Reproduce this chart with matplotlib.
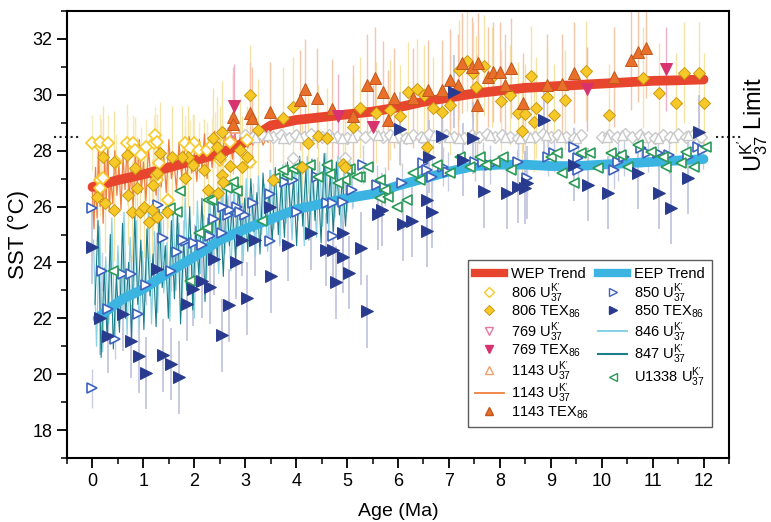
import matplotlib
matplotlib.use('Agg')
import matplotlib.pyplot as plt
from matplotlib.lines import Line2D
from matplotlib.ticker import MultipleLocator

plt.rcParams['font.family'] = ['Liberation Sans', 'DejaVu Sans']

# ---- trend curves ----
wep_x = [0, 0.5, 1, 1.5, 2, 2.5, 3, 3.5, 4, 4.5, 5, 5.5, 6, 6.5, 7, 7.5, 8, 8.5, 9, 9.5, 10, 10.5, 11, 11.5, 12]
wep_y = [26.7, 26.95, 27.15, 27.4, 27.65, 27.9, 28.3, 28.9, 29.1, 29.2, 29.3, 29.4, 29.55, 29.75, 29.9, 30.05,
         30.15, 30.25, 30.3, 30.35, 30.4, 30.45, 30.5, 30.52, 30.55]
eep_x = [0.1, 0.3, 0.6, 1.0, 1.5, 2.0, 2.5, 3.0, 3.5, 4.0, 4.5, 5.0, 5.5, 6.0, 6.5, 7.0, 7.5, 8.0, 8.5, 9.0,
         9.5, 10, 10.5, 11, 11.5, 12]
eep_y = [22.0, 22.3, 22.7, 23.05, 23.65, 24.2, 24.8, 25.2, 25.55, 25.9, 26.1, 26.3, 26.45, 26.75, 27.0, 27.25,
         27.45, 27.5, 27.5, 27.45, 27.45, 27.5, 27.55, 27.6, 27.65, 27.7]

# ---- high resolution alkenone records ----
u1143_line_x = [0.00, 0.03, 0.06, 0.09, 0.12, 0.15, 0.18, 0.21, 0.24, 0.27, 0.30, 0.33, 0.36, 0.40, 0.44, 0.48,
                0.52, 0.56, 0.60, 0.64, 0.68, 0.72, 0.76, 0.80, 0.84, 0.88, 0.92, 0.96, 1.00, 1.05, 1.10, 1.15,
                1.20, 1.25, 1.30, 1.35, 1.40, 1.45, 1.50, 1.55, 1.60, 1.65, 1.70, 1.75, 1.80, 1.85, 1.90, 1.95,
                2.00, 2.05, 2.10, 2.15, 2.20, 2.25, 2.30, 2.35, 2.40, 2.45, 2.50, 2.55, 2.60, 2.65, 2.70, 2.75,
                2.80, 2.85, 2.90, 2.95, 3.00, 3.05, 3.10, 3.15, 3.20, 3.25, 3.30, 3.35, 3.40, 3.45]
u1143_line_y = [26.5, 25.2, 27.4, 25.6, 28.0, 26.0, 27.2, 25.4, 27.6, 26.2, 28.3, 25.8, 27.0, 26.1, 28.0, 26.4,
                27.5, 25.9, 27.8, 26.6, 28.2, 26.3, 27.3, 26.0, 27.9, 26.8, 28.4, 26.5, 27.6, 26.2, 28.1, 26.9,
                27.4, 26.4, 28.2, 26.7, 27.8, 26.5, 28.4, 27.0, 27.6, 26.6, 28.3, 27.1, 28.0, 26.8, 28.5, 27.2,
                27.9, 26.9, 28.4, 27.3, 28.6, 27.0, 28.2, 27.4, 28.7, 27.6, 28.3, 27.5, 28.8, 27.8, 28.4, 27.7,
                28.6, 28.0, 28.5, 27.9, 28.6, 28.1, 28.5, 28.2, 28.6, 28.3, 28.5, 28.2, 28.4, 28.3]

u846_x = [0.02, 0.08, 0.14, 0.20, 0.26, 0.32, 0.38, 0.44, 0.50, 0.56, 0.62, 0.68, 0.74, 0.80, 0.86, 0.92, 0.98,
          1.04, 1.10, 1.16, 1.22, 1.28, 1.34, 1.40, 1.46, 1.52, 1.58, 1.64, 1.70, 1.76, 1.82, 1.88, 1.94, 2.00,
          2.06, 2.12, 2.18, 2.24, 2.30, 2.36, 2.42, 2.48, 2.54, 2.60, 2.66, 2.72, 2.78, 2.84, 2.90, 2.96, 3.02,
          3.08, 3.14, 3.20, 3.26, 3.32, 3.38, 3.44, 3.50, 3.56, 3.62, 3.68, 3.74, 3.80, 3.86, 3.92, 3.98, 4.04,
          4.10, 4.16, 4.22, 4.28, 4.34, 4.40, 4.46, 4.52, 4.58, 4.64, 4.70, 4.76, 4.82, 4.88, 4.94, 5.00, 5.06,
          5.12]
u846_y = [24.8, 21.0, 25.3, 20.8, 24.2, 21.8, 25.6, 21.2, 24.6, 22.0, 25.8, 21.4, 24.9, 22.3, 25.5, 21.6, 24.4,
          22.6, 26.0, 21.8, 25.1, 22.2, 25.8, 22.9, 24.7, 21.9, 26.1, 23.0, 25.4, 22.4, 26.3, 23.3, 25.0, 22.0,
          26.2, 23.6, 25.7, 23.4, 26.5, 24.0, 26.0, 23.6, 26.6, 24.3, 25.8, 23.7, 26.7, 24.5, 26.2, 24.0, 27.0,
          24.6, 26.4, 24.2, 27.1, 25.0, 26.8, 24.4, 27.3, 25.2, 26.6, 24.6, 27.5, 25.4, 27.0, 24.8, 27.7, 25.5,
          27.2, 24.6, 27.8, 25.7, 27.0, 24.9, 27.6, 25.3, 27.9, 25.0, 27.4, 25.6, 27.8, 25.2, 27.3, 25.8, 27.6,
          26.0]

u847_x = [0.05, 0.11, 0.17, 0.23, 0.29, 0.35, 0.41, 0.47, 0.53, 0.59, 0.65, 0.71, 0.77, 0.83, 0.89, 0.95, 1.01,
          1.07, 1.13, 1.19, 1.25, 1.31, 1.37, 1.43, 1.49, 1.55, 1.61, 1.67, 1.73, 1.79, 1.85, 1.91, 1.97, 2.03,
          2.09, 2.15, 2.21, 2.27, 2.33, 2.39, 2.45, 2.51, 2.57, 2.63, 2.69, 2.75, 2.81, 2.87, 2.93, 2.99, 3.05,
          3.11, 3.17, 3.23, 3.29, 3.35, 3.41, 3.47, 3.53, 3.59, 3.65, 3.71, 3.77, 3.83, 3.89, 3.95, 4.01, 4.07,
          4.13, 4.19, 4.25, 4.31, 4.37, 4.43, 4.49, 4.55, 4.61, 4.67, 4.73, 4.79, 4.85, 4.91, 4.97, 5.03]
u847_y = [22.5, 25.5, 20.6, 23.8, 21.2, 25.0, 20.9, 23.5, 21.5, 25.4, 22.0, 24.0, 21.3, 25.7, 22.5, 24.8, 21.6,
          25.2, 22.8, 24.3, 21.7, 25.9, 23.1, 24.6, 22.0, 25.5, 22.7, 25.9, 21.8, 24.8, 23.0, 26.0, 22.3, 25.3,
          23.5, 26.3, 22.6, 25.6, 23.9, 26.4, 24.2, 25.9, 23.5, 26.6, 24.6, 26.1, 24.1, 26.8, 24.8, 26.3, 24.4,
          27.0, 25.1, 26.5, 24.3, 27.2, 25.3, 26.6, 24.7, 27.4, 25.0, 26.9, 24.9, 27.6, 25.6, 27.0, 24.6, 27.8,
          25.3, 27.3, 24.8, 27.7, 25.5, 27.1, 24.7, 27.9, 25.4, 27.2, 25.1, 27.6, 25.7, 27.0, 25.3, 27.4]

# ---- ODP 806 ----
tex806_x = [3.09, 2.54, 3.25, 3.74, 3.94, 5.26, 5.12, 5.57, 4.23, 4.43, 4.60, 4.11, 4.92, 4.96, 3.54, 2.36, 2.44,
            2.89, 2.50, 2.70, 3.03, 2.93, 2.54, 2.56, 2.46, 2.20, 2.26, 1.97, 1.81, 1.87, 1.75, 1.57, 1.32, 1.26,
            1.18, 0.83, 0.67, 0.20, 0.43, 0.87, 0.69, 0.08, 0.24, 0.43, 0.77, 0.93, 1.02, 1.16, 1.12, 1.26, 1.46,
            5.85, 6.04, 6.20, 6.38, 6.52, 6.69, 6.87, 7.03, 7.19, 7.36, 7.48, 7.68, 7.85, 7.54, 8.03, 8.19, 8.35,
            8.50, 8.43, 8.72, 8.68, 8.92, 9.06, 9.27, 8.62, 9.69, 10.14, 10.81, 11.12, 11.46, 11.61, 11.91, 12.00,
            6.57]
tex806_y = [30.0, 28.68, 28.75, 29.18, 29.57, 29.54, 28.86, 29.36, 28.29, 28.54, 28.46, 27.43, 27.54, 27.43,
            26.96, 28.46, 28.14, 28.04, 27.79, 27.46, 27.79, 27.43, 27.14, 26.89, 26.5, 27.32, 26.61, 27.5, 27.04,
            27.79, 27.79, 27.79, 27.93, 27.21, 26.79, 27.39, 27.86, 27.79, 27.61, 26.68, 26.43, 26.36, 26.14,
            25.86, 25.82, 25.82, 26.0, 25.89, 25.46, 25.64, 25.82,
            29.46, 29.25, 30.1, 30.2, 30.0, 29.54, 29.39, 29.64, 30.89, 31.21, 30.79, 31.04, 30.64, 30.29, 29.79,
            30.0, 29.36, 29.32, 28.71, 29.54, 29.04, 29.93, 29.29, 29.82, 30.68, 30.86, 29.29, 30.61, 30.07,
            29.71, 30.79, 30.79, 29.71, 28.14]

uk806_x = [0.00, 0.17, 0.14, 0.31, 0.67, 0.80, 0.83, 1.06, 1.20, 1.22, 1.26, 0.96, 0.47, 1.81, 1.99, 1.91, 2.09,
           2.24, 2.34, 2.40, 2.70, 2.50, 1.30, 1.26, 1.26, 0.14, 0.21, 0.14, 1.48, 3.03, 3.09]
uk806_y = [28.29, 28.14, 28.32, 28.29, 28.29, 28.29, 28.04, 28.14, 28.29, 28.57, 28.32, 27.86, 27.61, 28.29,
           28.29, 28.1, 28.04, 28.04, 28.21, 28.39, 28.32, 27.68, 27.57, 26.96, 27.14, 26.96, 27.04, 26.68,
           26.25, 28.39, 27.61]

# saturated alkenone values near the limit (grey)
sat_dia_x = [3.00, 3.15, 3.30, 3.55, 3.70, 3.85, 4.00, 4.15, 4.30, 4.50, 4.65, 4.80, 5.00, 5.20, 5.35, 5.50, 5.70,
             5.85, 6.00, 6.15, 6.30, 6.45, 6.60, 6.80, 6.95, 7.10, 7.30, 7.45, 7.60, 7.75, 7.90, 8.05, 8.20, 8.35,
             8.50, 8.70, 8.85, 9.00, 9.15, 9.30, 9.45, 9.60, 10.00, 10.15, 10.30, 10.45, 10.60, 10.75, 10.90,
             11.05, 11.20, 11.35, 11.50, 11.65, 11.80, 11.95, 3.94, 4.96]
sat_dia_y = [28.55, 28.5, 28.6, 28.5, 28.55, 28.45, 28.55, 28.5, 28.6, 28.5, 28.55, 28.5, 28.45, 28.55, 28.5,
             28.6, 28.5, 28.55, 28.5, 28.45, 28.55, 28.5, 28.6, 28.5, 28.55, 28.5, 28.45, 28.55, 28.5, 28.6, 28.5,
             28.55, 28.5, 28.45, 28.55, 28.5, 28.6, 28.5, 28.55, 28.5, 28.45, 28.55, 28.5, 28.55, 28.5, 28.6,
             28.5, 28.55, 28.5, 28.45, 28.55, 28.5, 28.6, 28.5, 28.55, 28.5, 27.75, 27.75]
sat_tri_x = [3.20, 3.45, 3.75, 4.05, 4.40, 4.70, 4.90, 5.10, 5.60, 5.90, 6.20, 6.50, 6.70, 7.00, 7.20, 7.50, 7.80,
             8.10, 8.40, 8.60, 8.90, 9.20, 9.50, 10.10, 10.40, 10.80, 11.10, 11.40, 11.70]
sat_tri_y = [28.5, 28.55, 28.45, 28.5, 28.55, 28.5, 28.45, 28.5, 28.55, 28.5, 28.45, 28.5, 28.55, 28.5, 28.45,
             28.5, 28.55, 28.5, 28.45, 28.5, 28.55, 28.5, 28.45, 28.5, 28.55, 28.5, 28.45, 28.5, 28.55]

# ---- ODP 769 ----
tex769_x = [2.78, 4.82, 5.51, 9.72, 11.26]
tex769_y = [29.6, 29.25, 28.86, 30.21, 30.93]
uk769_x = [2.76]
uk769_y = [28.64]

# ---- ODP 1143 ----
tex1143_x = [2.76, 2.76, 3.09, 3.13, 3.48, 4.17, 4.07, 4.41, 4.70, 5.12, 5.39, 5.55, 5.71, 5.81, 5.93, 6.30, 6.59,
             6.87, 7.03, 7.17, 7.26, 7.46, 7.58, 7.76, 7.87, 8.01, 8.21, 8.11, 7.56, 8.46, 8.92, 9.23, 9.45,
             10.24, 10.57, 10.71, 10.87]
tex1143_y = [29.21, 28.96, 29.36, 29.18, 29.39, 30.21, 29.82, 29.89, 29.5, 29.25, 30.36, 30.61, 30.11, 29.1,
             29.89, 29.89, 30.18, 30.18, 30.54, 30.36, 31.14, 31.0, 31.14, 30.64, 30.82, 30.82, 30.96, 30.36,
             29.64, 29.71, 30.36, 30.39, 30.79, 30.64, 31.25, 31.54, 31.68]
uk1143_x = [2.80]
uk1143_y = [28.82]

# ---- ODP 850 ----
uk850_x = [0.00, 0.18, 0.59, 0.75, 0.31, 0.45, 0.89, 0.00, 1.06, 1.38, 1.54, 1.67, 1.83, 1.99, 2.15, 2.30, 2.54,
           2.38, 2.66, 2.83, 2.99, 3.15, 3.48, 4.02, 4.60, 4.72, 4.92, 4.72, 1.28, 3.48, 3.78, 3.94, 4.41, 5.10,
           5.31, 5.59, 2.70, 2.89, 2.56, 1.77, 5.75, 6.08, 6.50, 6.57, 6.67, 6.89, 6.99, 7.52, 7.66, 7.81, 8.35,
           8.54, 8.94, 9.06, 9.45, 9.53, 9.53, 10.24, 10.33, 10.43, 10.77, 10.91, 11.10, 11.32, 11.69, 11.89,
           11.99]
uk850_y = [25.96, 23.68, 23.57, 23.57, 22.32, 21.25, 22.14, 19.5, 23.18, 24.86, 23.68, 24.36, 24.75, 24.68,
           24.64, 24.96, 25.07, 25.57, 25.71, 26.0, 25.71, 26.14, 24.75, 25.82, 26.14, 26.14, 26.18, 24.96,
           26.07, 26.46, 26.89, 26.96, 27.07, 26.61, 27.5, 26.79, 25.89, 25.79, 26.0, 24.82, 26.71, 26.86, 27.57,
           27.32, 27.07, 27.43, 27.25, 27.61, 27.61, 27.5, 27.61, 27.04, 27.79, 27.93, 28.14, 27.75, 27.32,
           27.32, 27.61, 27.79, 28.11, 27.93, 27.93, 27.86, 27.79, 28.14, 28.04]

tex850_x = [0.00, 0.14, 0.30, 0.59, 0.75, 0.91, 1.06, 1.26, 1.38, 1.54, 1.69, 1.85, 1.97, 2.15, 2.30, 2.38, 2.68,
            2.81, 2.93, 3.03, 3.19, 3.50, 3.84, 4.29, 4.59, 4.72, 4.92, 5.04, 4.78, 4.92, 5.28, 5.39, 5.61, 2.54,
            3.48, 6.04, 6.87, 7.48, 7.10, 8.86, 6.61, 7.28, 9.45, 10.71, 11.91, 11.69, 7.68, 8.15, 8.35, 8.50,
            8.54, 9.74, 10.12, 11.12, 11.36, 5.69, 6.10, 6.28, 6.57, 6.67, 6.57]
tex850_y = [24.54, 22.0, 21.36, 22.14, 21.18, 20.64, 20.04, 23.75, 20.68, 20.36, 19.89, 22.5, 23.04, 23.32, 23.11,
            24.14, 22.46, 24.0, 24.82, 22.71, 24.82, 23.5, 24.64, 25.04, 24.46, 24.46, 24.21, 23.64, 23.29, 25.04,
            24.5, 22.25, 25.75, 21.39, 26.0, 28.79, 28.54, 28.46, 30.11, 29.11, 27.79, 27.68, 27.5, 27.21, 28.68,
            27.04, 26.54, 26.5, 26.71, 26.68, 26.86, 26.79, 26.5, 26.5, 25.96, 25.89, 25.36, 25.5, 25.14, 25.82,
            26.25]

# ---- IODP U1338 ----
u1338_x = [0.40, 1.91, 2.10, 3.32, 1.67, 1.48, 1.71, 2.26, 2.76, 2.83, 3.82, 3.94, 4.27, 4.67, 4.96, 5.06, 5.41,
           5.65, 5.75, 5.26, 2.24, 5.65, 5.98, 6.30, 6.44, 6.77, 7.03, 7.22, 7.42, 7.62, 7.72, 7.91, 8.07, 8.21,
           9.00, 9.13, 9.23, 9.45, 9.59, 9.78, 9.92, 10.18, 10.37, 10.51, 10.71, 10.96, 11.20, 11.26, 11.56,
           11.65, 11.81, 12.05, 6.18, 5.81, 1.52, 2.34, 2.64, 3.58, 3.74, 4.02, 4.43, 4.60, 4.82, 5.00, 5.20]
u1338_y = [23.71, 23.32, 25.07, 25.5, 25.79, 25.89, 26.54, 26.25, 26.89, 26.54, 27.14, 27.36, 27.5, 27.18, 26.96,
           27.36, 27.43, 26.32, 26.61, 27.07, 25.25, 26.96, 26.0, 27.21, 26.96, 27.5, 27.21, 27.79, 27.43, 27.79,
           27.5, 27.61, 27.79, 27.32, 27.79, 27.93, 27.21, 26.86, 27.93, 27.93, 27.39, 27.93, 27.86, 27.43,
           28.21, 27.96, 27.79, 27.43, 27.57, 27.96, 27.43, 28.14, 26.25, 26.36, 25.96, 26.25, 26.68, 27.04,
           27.32, 27.43, 27.07, 27.5, 26.86, 27.32, 27.07]

# colours
c_yel, c_yel_e = '#F7C928', '#C99A12'
c_org, c_org_e = '#E8702A', '#C4561A'
c_mag = '#D8336F'
c_navy = '#283B8F'
c_blue = '#3D62BE'
c_green = '#2A9A58'
c_wep, c_eep = '#E8452F', '#3BB4E2'
c_846, c_847 = '#8AD3E4', '#1C7E88'
c_1143 = '#F0803F'
c_grey = '#C9C9C9'

fig = plt.figure(figsize=(7.71, 5.22), dpi=100)
ax = fig.add_axes([0.0869, 0.1226, 0.8586, 0.8563])

# error bars
ax.errorbar(tex806_x, tex806_y, yerr=1.8, fmt='none', ecolor='#F5E3A4', elinewidth=1, zorder=1)
ax.errorbar(tex1143_x, tex1143_y, yerr=1.8, fmt='none', ecolor='#F5C6AA', elinewidth=1, zorder=1)
ax.errorbar(tex769_x, tex769_y, yerr=1.5, fmt='none', ecolor='#EFB0C8', elinewidth=1, zorder=1)
ax.errorbar(uk806_x, uk806_y, yerr=1.0, fmt='none', ecolor='#F7EBBB', elinewidth=1, zorder=1)
ax.errorbar(tex850_x, tex850_y, yerr=1.3, fmt='none', ecolor='#B9BDD9', elinewidth=1.1, zorder=1)
ax.errorbar(uk850_x, uk850_y, yerr=0.7, fmt='none', ecolor='#C9CDE3', elinewidth=1, zorder=1)

# high resolution records
ax.plot(u846_x, u846_y, color=c_846, lw=0.9, zorder=2)
ax.plot(u847_x, u847_y, color=c_847, lw=0.8, zorder=2)
ax.plot(u1143_line_x, u1143_line_y, color=c_1143, lw=0.9, zorder=2)

# trends
ax.plot(wep_x, wep_y, color=c_wep, lw=7, solid_capstyle='round', zorder=3)
ax.plot(eep_x, eep_y, color=c_eep, lw=7, solid_capstyle='round', zorder=3)

# saturated values
ax.plot(sat_dia_x, sat_dia_y, ls='none', marker='D', ms=6.5, mfc='white', mec=c_grey, mew=1, zorder=4)
ax.plot(sat_tri_x, sat_tri_y, ls='none', marker='^', ms=7, mfc='white', mec=c_grey, mew=1, zorder=4)

# open symbols
ax.plot(uk806_x, uk806_y, ls='none', marker='D', ms=6.5, mfc='white', mec=c_yel, mew=1.2, zorder=5)
ax.plot(uk769_x, uk769_y, ls='none', marker='v', ms=7, mfc='white', mec='#E67BA0', mew=1.2, zorder=5)
ax.plot(uk1143_x, uk1143_y, ls='none', marker='^', ms=7, mfc='white', mec='#F0A070', mew=1.2, zorder=5)
ax.plot(uk850_x, uk850_y, ls='none', marker='>', ms=7.5, mfc='white', mec=c_blue, mew=1.2, zorder=5)
ax.plot(u1338_x, u1338_y, ls='none', marker='<', ms=7.5, mfc='white', mec=c_green, mew=1.2, zorder=5)

# filled symbols
ax.plot(tex806_x, tex806_y, ls='none', marker='D', ms=6.5, mfc=c_yel, mec=c_yel_e, mew=0.7, zorder=6)
ax.plot(tex1143_x, tex1143_y, ls='none', marker='^', ms=8, mfc=c_org, mec=c_org_e, mew=0.7, zorder=6)
ax.plot(tex769_x, tex769_y, ls='none', marker='v', ms=8, mfc=c_mag, mec=c_mag, mew=0.7, zorder=6)
ax.plot(tex850_x, tex850_y, ls='none', marker='>', ms=8, mfc=c_navy, mec=c_navy, mew=0.7, zorder=6)

ax.set_xlim(-0.5, 12.5)
ax.set_ylim(17, 33)
ax.xaxis.set_major_locator(MultipleLocator(1))
ax.xaxis.set_minor_locator(MultipleLocator(0.5))
ax.yaxis.set_minor_locator(MultipleLocator(1))
ax.set_yticks([18, 20, 22, 24, 26, 28, 30, 32])
ax.tick_params(which='major', direction='out', length=7, width=1.3, labelsize=13)
ax.tick_params(which='minor', direction='out', length=4, width=1.1)
for s in ax.spines.values():
    s.set_linewidth(1.5)
ax.set_xlabel('Age (Ma)', fontsize=14, labelpad=10)
ax.set_ylabel('SST (\u00b0C)', fontsize=16)
ax.yaxis.set_label_coords(-0.057, 0.5)

# alkenone saturation limit markers
ax.plot([-0.75, -0.25], [28.5, 28.5], ls=':', color='#222222', lw=1.5, clip_on=False)
ax.plot([12.25, 12.75], [28.5, 28.5], ls=':', color='#222222', lw=1.5, clip_on=False)
fig.text(0.977, 1 - 125 / 522, r"$\mathregular{U^{K'}_{37}}$ Limit", rotation=90, ha='center', va='center',
         fontsize=17)

uk = r"$\mathregular{U^{K'}_{37}}$"
tex = r"$\mathregular{TEX_{86}}$"
blank = Line2D([], [], ls='none')
handles = [
    Line2D([], [], color=c_wep, lw=6),
    Line2D([], [], ls='none', marker='D', ms=5, mfc='white', mec=c_yel, mew=1),
    Line2D([], [], ls='none', marker='D', ms=5, mfc=c_yel, mec=c_yel_e, mew=0.7),
    Line2D([], [], ls='none', marker='v', ms=6, mfc='white', mec='#E67BA0', mew=1),
    Line2D([], [], ls='none', marker='v', ms=6, mfc=c_mag, mec=c_mag),
    Line2D([], [], ls='none', marker='^', ms=6, mfc='white', mec='#F0A070', mew=1),
    Line2D([], [], color=c_1143, lw=1.3),
    Line2D([], [], ls='none', marker='^', ms=6, mfc=c_org, mec=c_org_e),
    Line2D([], [], color=c_eep, lw=6),
    Line2D([], [], ls='none', marker='>', ms=6, mfc='white', mec=c_blue, mew=1),
    Line2D([], [], ls='none', marker='>', ms=6, mfc=c_navy, mec=c_navy),
    Line2D([], [], color=c_846, lw=1.5),
    Line2D([], [], color=c_847, lw=1.5),
    Line2D([], [], ls='none', marker='<', ms=6, mfc='white', mec=c_green, mew=1),
    blank, blank,
]
labels = ['WEP Trend', '806 ' + uk, '806 ' + tex, '769 ' + uk, '769 ' + tex, '1143 ' + uk, '1143 ' + uk,
          '1143 ' + tex, 'EEP Trend', '850 ' + uk, '850 ' + tex, '846 ' + uk, '847 ' + uk, 'U1338 ' + uk, '', '']
leg = ax.legend(handles, labels, ncol=2, loc='lower right', bbox_to_anchor=(0.974, 0.069), fontsize=10.5,
                frameon=True, fancybox=False, edgecolor='#333333', handlelength=2.0, handletextpad=0.5,
                columnspacing=0.6, labelspacing=0.0, borderpad=0.45, borderaxespad=0)
leg.get_frame().set_linewidth(1.0)
leg.set_zorder(10)

fig.savefig('out.png', dpi=100)
